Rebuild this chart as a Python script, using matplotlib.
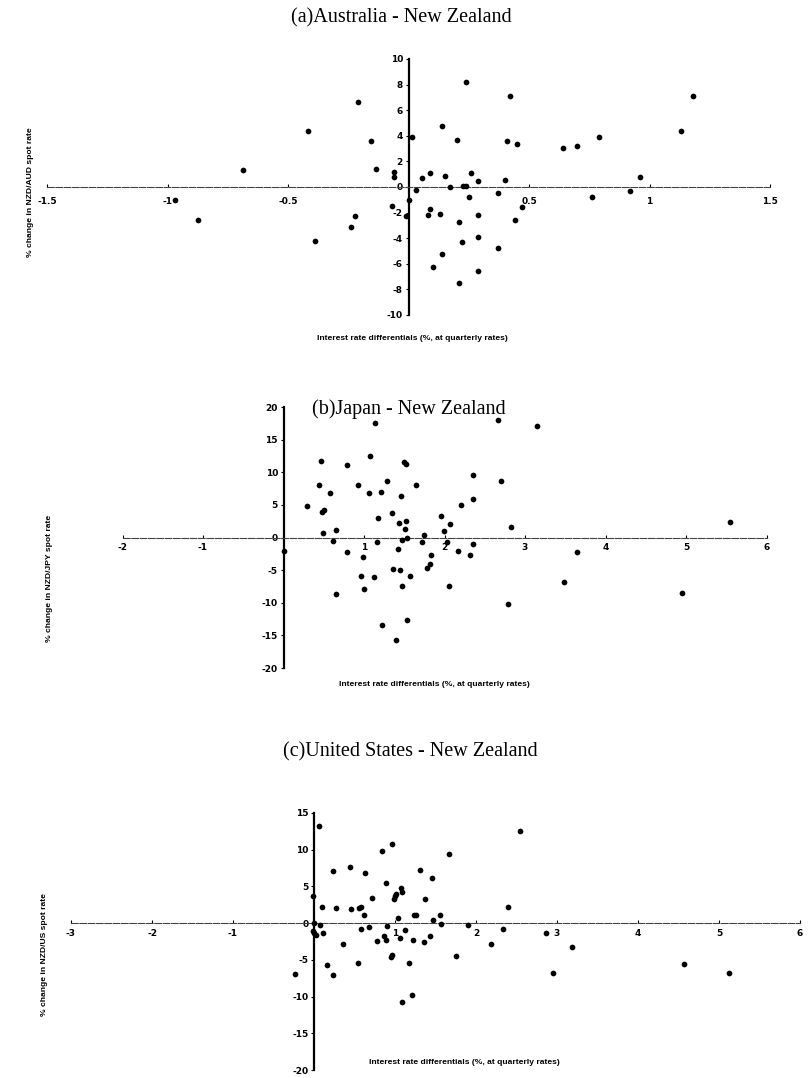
import matplotlib
matplotlib.use("Agg")
import matplotlib.pyplot as plt

# ---------------- data ----------------
# (a) Australia - New Zealand
a_x = [-0.21, -0.415, -0.157, -0.685, -0.133, -0.97, -0.874, -0.39, -0.24, -0.22,
       0.0, -0.01, 0.015, 0.033, 0.054, 0.089, 0.151, 0.172, 0.228, 0.24,
       0.26, 0.29, 0.25, 0.37, 0.40, 0.14, 0.20, 0.24, 0.42, 0.41,
       0.45, 0.64, 0.70, 0.79, 1.13, 1.18, 0.96, 0.92, 0.76, 0.47,
       0.44, 0.09, 0.08, 0.13, 0.21, 0.29, 0.22, 0.29, 0.37, 0.14,
       0.10, 0.29, 0.21, -0.06, -0.06, -0.07]
a_y = [6.66, 4.4, 3.6, 1.33, 1.4, -1.0, -2.6, -4.2, -3.1, -2.24,
       -1.0, -2.3, 3.9, -0.23, 0.68, 1.07, 0.86, 0.02, 0.08, 0.05,
       1.07, 0.5, -0.76, -0.44, 0.55, 4.77, 3.67, 8.18, 7.1, 3.62,
       3.33, 3.07, 3.18, 3.93, 4.35, 7.1, 0.76, -0.34, -0.76, -1.54,
       -2.55, -1.74, -2.19, -2.11, -2.71, -2.21, -4.27, -3.88, -4.74, -5.21,
       -6.23, -6.56, -7.5, 1.2, 0.8, -1.46]

# (b) Japan - New Zealand
b_x = [0.0, 0.29, 0.445, 0.466, 0.578, 0.48, 0.50, 0.495, 0.648, 0.62,
       0.652, 0.793, 0.785, 0.93, 0.99, 0.96, 0.995, 1.08, 1.06, 1.157,
       1.128, 1.133, 1.178, 1.215, 1.28, 1.227, 1.344, 1.356, 1.447, 1.394,
       1.464, 1.435, 1.518, 1.51, 1.468, 1.53, 1.426, 1.476, 1.50, 1.52,
       1.571, 1.53, 1.646, 1.742, 1.72, 1.832, 1.78, 1.82, 1.953, 1.994,
       2.027, 2.068, 2.056, 2.164, 2.2, 2.32, 2.35, 2.354, 2.35, 2.665,
       2.698, 2.79, 2.82, 3.15, 3.49, 3.64, 4.95, 5.55]
b_y = [-2.0, 4.87, 8.1, 11.8, 6.8, 3.9, 4.2, 0.66, 1.12, -0.46,
       -8.7, 11.1, -2.2, 8.05, -2.92, -5.95, -7.95, 12.46, 6.8, -0.72,
       -6.05, 17.5, 2.97, 6.97, 8.72, -13.4, 3.8, -4.82, -5.03, -15.74,
       6.3, 2.2, 2.57, 1.34, -0.31, -0.1, -1.74, -7.49, 11.6, 11.2,
       -5.95, -12.6, 8.1, 0.41, -0.72, -2.67, -4.6, -4.0, 3.28, 1.03,
       -0.72, 2.1, -7.44, -2.05, 4.92, -2.67, -0.97, 5.95, 9.54, 18.05,
       8.72, -10.15, 1.59, 17.1, -6.8, -2.2, -8.56, 2.36]

# (c) United States - New Zealand
c_x = [-0.235, -0.016, 0.066, 0.10, 0.0, 0.074, -0.01, 0.0, 0.02, 0.115,
       0.156, 0.238, 0.23, 0.27, 0.354, 0.444, 0.453, 0.547, 0.56, 0.58,
       0.63, 0.617, 0.58, 0.683, 0.712, 0.782, 0.843, 0.885, 0.87, 0.885,
       0.905, 0.95, 0.96, 0.96, 0.99, 1.0, 1.01, 1.08, 1.09, 1.04,
       1.06, 1.12, 1.083, 1.177, 1.214, 1.218, 1.24, 1.26, 1.31, 1.37,
       1.362, 1.43, 1.46, 1.47, 1.556, 1.568, 1.667, 1.753, 1.905, 2.185,
       2.337, 2.40, 2.543, 2.864, 2.955, 3.19, 4.57, 5.12]
c_y = [-6.94, 3.67, 13.2, 2.2, 0.0, -0.3, -1.1, -1.4, -1.6, -1.3,
       -5.7, -7.1, 7.1, 2.0, -2.9, 7.66, 1.86, -5.4, 2.0, 2.2,
       6.85, 1.09, -0.82, -0.59, 3.44, -2.4, 9.8, 5.5, -1.8, -2.3,
       -0.4, -4.6, -4.4, 10.84, 3.3, 3.7, 4.0, 4.76, 4.3, 0.64,
       -2.08, -0.95, -10.75, -5.4, -9.8, -2.31, 1.09, 1.09, 7.2, 3.22,
       -2.63, -1.77, 6.16, 0.41, 1.09, -0.05, 9.48, -4.49, -0.27, -2.86,
       -0.77, 2.22, 12.56, -1.41, -6.85, -3.2, -5.5, -6.85]

a_xticks = [-1.5, -1, -0.5, 0.5, 1, 1.5]
a_xticklabels = ["-1.5", "-1", "-0.5", "0.5", "1", "1.5"]
a_yticks = [-10, -8, -6, -4, -2, 0, 2, 4, 6, 8, 10]

b_xticks = [-2, -1, 1, 2, 3, 4, 5, 6]
b_xticklabels = ["-2", "-1", "1", "2", "3", "4", "5", "6"]
b_yticks = [-20, -15, -10, -5, 0, 5, 10, 15, 20]

c_xticks = [-3, -2, -1, 1, 2, 3, 4, 5, 6]
c_xticklabels = ["-3", "-2", "-1", "1", "2", "3", "4", "5", "6"]
c_yticks = [-20, -15, -10, -5, 0, 5, 10, 15]

titles = ["(a)Australia - New Zealand", "(b)Japan - New Zealand",
          "(c)United States - New Zealand"]
ylabels = ["% change in NZD/AUD spot rate", "% change in NZD/JPY spot rate",
           "% change in NZD/US spot rate"]
xlabel = "Interest rate differentials (%, at quarterly rates)"

# ---------------- drawing ----------------
W, H = 809, 1078
fig = plt.figure(figsize=(W / 100, H / 100), dpi=100)


def px_axes(x0, x1, ytop, ybot):
    return [x0 / W, 1 - ybot / H, (x1 - x0) / W, (ybot - ytop) / H]


def make_panel(rect, xs, ys, xlim, ylim, xticks, xticklabels, yticks, xpad):
    ax = fig.add_axes(rect)
    ax.set_xlim(*xlim)
    ax.set_ylim(*ylim)
    for s in ("top", "right"):
        ax.spines[s].set_visible(False)
    ax.spines["left"].set_position(("data", 0))
    ax.spines["bottom"].set_position(("data", 0))
    ax.spines["left"].set_linewidth(1.6)
    ax.spines["left"].set_color("black")
    ax.spines["bottom"].set_linewidth(0.8)
    ax.spines["bottom"].set_color("#444444")
    ax.spines["bottom"].set_linestyle((0, (6, 1.5)))
    ax.set_xticks(xticks)
    ax.set_xticklabels(xticklabels)
    ax.set_yticks(yticks)
    ax.set_yticklabels([str(v) for v in yticks])
    ax.tick_params(axis="both", labelsize=6.5, length=2.5, width=0.8,
                   pad=1.5, colors="black")
    ax.tick_params(axis="x", direction="in", pad=xpad)
    ax.tick_params(axis="y", direction="out")
    for lab in ax.get_xticklabels() + ax.get_yticklabels():
        lab.set_fontweight("bold")
    ax.scatter(xs, ys, s=17, marker="o", color="black", zorder=3,
               clip_on=False, linewidths=0)
    ax.patch.set_alpha(0)
    return ax


make_panel(px_axes(47, 770, 59, 315), a_x, a_y, (-1.5, 1.5), (-10, 10),
           a_xticks, a_xticklabels, a_yticks, 7)
make_panel(px_axes(122.5, 766.5, 407, 668), b_x, b_y, (-2, 6), (-20, 20),
           b_xticks, b_xticklabels, b_yticks, 4)
make_panel(px_axes(71, 800, 813, 1070), c_x, c_y, (-3, 6), (-20, 15),
           c_xticks, c_xticklabels, c_yticks, 4)

serif = ["Liberation Serif", "DejaVu Serif"]
fig.text(401 / W, 1 - 18 / H, titles[0], ha="center", va="center",
         fontsize=14.5, family=serif)
fig.text(409 / W, 1 - 409 / H, titles[1], ha="center", va="center",
         fontsize=14.5, family=serif)
fig.text(410 / W, 1 - 752 / H, titles[2], ha="center", va="center",
         fontsize=14.5, family=serif)

sans = ["Liberation Sans", "DejaVu Sans"]
fig.text(412 / W, 1 - 338 / H, xlabel, ha="center", va="center",
         fontsize=6.1, fontweight="bold", family=sans)
fig.text(434 / W, 1 - 684 / H, xlabel, ha="center", va="center",
         fontsize=6.1, fontweight="bold", family=sans)
fig.text(464 / W, 1 - 1063 / H, xlabel, ha="center", va="center",
         fontsize=6.1, fontweight="bold", family=sans)

fig.text(31 / W, 1 - 192 / H, ylabels[0], ha="center", va="center",
         rotation=90, fontsize=6.1, fontweight="bold", family=sans)
fig.text(50 / W, 1 - 578 / H, ylabels[1], ha="center", va="center",
         rotation=90, fontsize=6.1, fontweight="bold", family=sans)
fig.text(45 / W, 1 - 955 / H, ylabels[2], ha="center", va="center",
         rotation=90, fontsize=6.1, fontweight="bold", family=sans)

fig.savefig("out.png", dpi=100, facecolor="white")
